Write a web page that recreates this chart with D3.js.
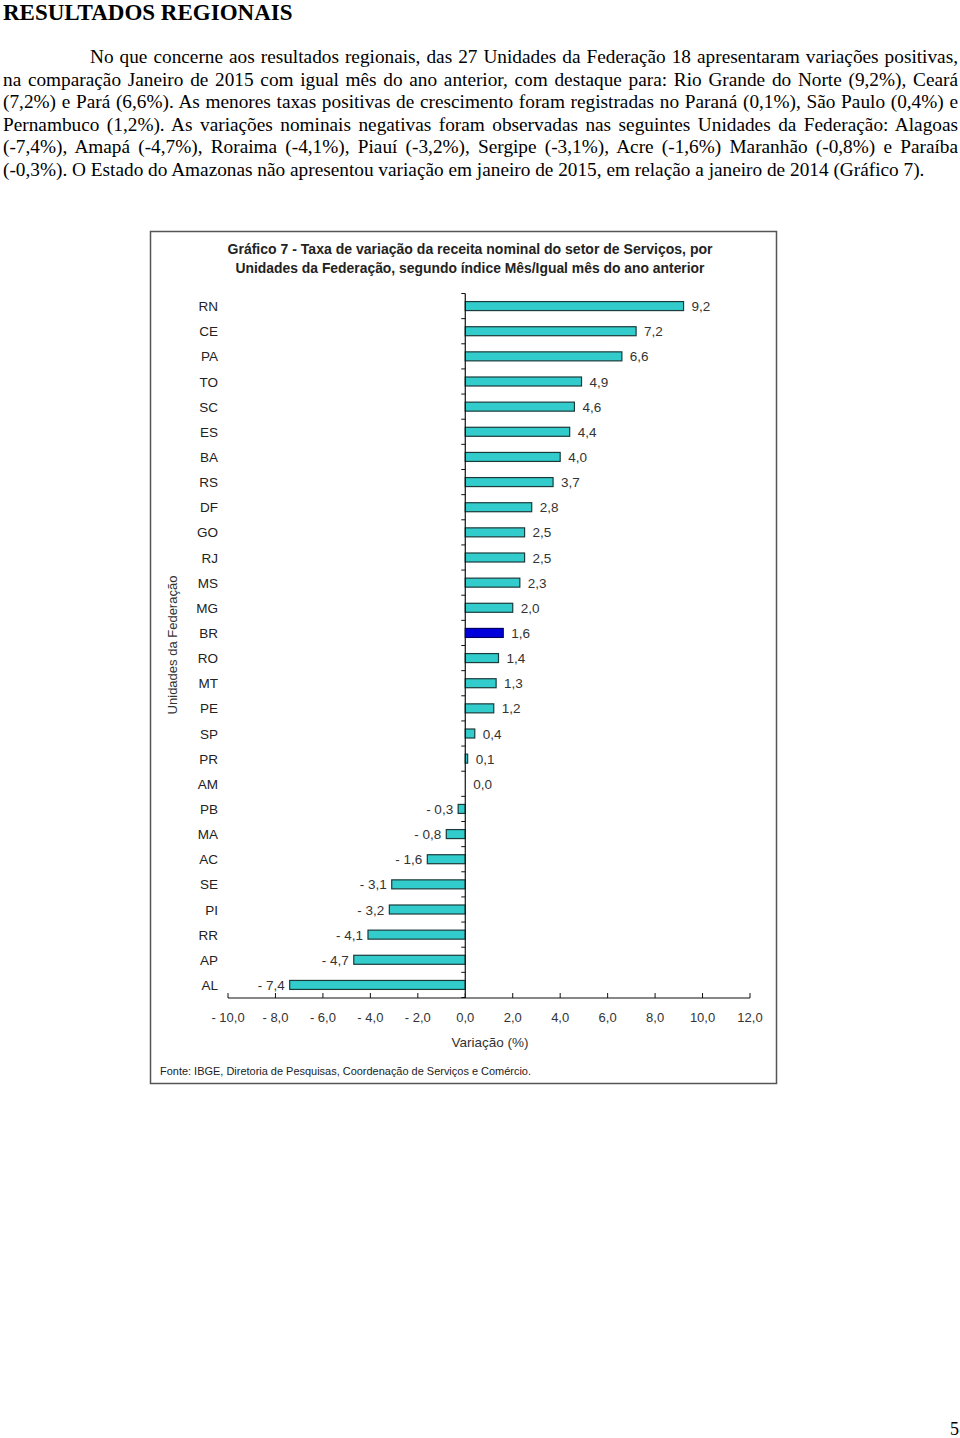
<!DOCTYPE html>
<html><head><meta charset="utf-8">
<script src="https://cdn.jsdelivr.net/npm/d3@7"></script>
<style>
body{margin:0;background:#fff;width:960px;height:1438px;position:relative;overflow:hidden;}
#head{position:absolute;left:3px;top:1px;font-family:"Liberation Serif","Times New Roman",serif;font-weight:bold;font-size:23px;line-height:23px;color:#000;white-space:nowrap;}
#para{position:absolute;left:3px;top:46px;width:955px;font-family:"Liberation Serif","Times New Roman",serif;font-size:19.3px;line-height:22.6px;color:#000;}
#para div{text-align:justify;text-align-last:justify;white-space:nowrap;}
#para div.first{padding-left:87px;}
#para div.last{text-align-last:left;}
#pg{position:absolute;left:950px;top:1419px;font-family:"Liberation Serif",serif;font-size:18px;}
svg{position:absolute;left:0;top:0;}
</style></head><body>
<div id="head">RESULTADOS REGIONAIS</div>
<div id="para"></div>
<div id="pg">5</div>
<svg id="chart" width="960" height="1438"></svg>
<script>
const paragraphLines = [
 "No que concerne aos resultados regionais, das 27 Unidades da Federação 18 apresentaram variações positivas,",
 "na comparação Janeiro de 2015 com igual mês do ano anterior, com destaque para: Rio Grande do Norte (9,2%), Ceará",
 "(7,2%) e Pará (6,6%). As menores taxas positivas de crescimento foram registradas no Paraná (0,1%), São Paulo (0,4%) e",
 "Pernambuco (1,2%). As variações nominais negativas foram observadas nas seguintes Unidades da Federação: Alagoas",
 "(-7,4%), Amapá (-4,7%), Roraima (-4,1%), Piauí (-3,2%), Sergipe (-3,1%), Acre (-1,6%) Maranhão (-0,8%) e Paraíba",
 "(-0,3%). O Estado do Amazonas não apresentou variação em janeiro de 2015, em relação a janeiro de 2014 (Gráfico 7)."
];
const states = ["RN","CE","PA","TO","SC","ES","BA","RS","DF","GO","RJ","MS","MG","BR","RO","MT","PE","SP","PR","AM","PB","MA","AC","SE","PI","RR","AP","AL"];
const values = [9.2,7.2,6.6,4.9,4.6,4.4,4.0,3.7,2.8,2.5,2.5,2.3,2.0,1.6,1.4,1.3,1.2,0.4,0.1,0.0,-0.3,-0.8,-1.6,-3.1,-3.2,-4.1,-4.7,-7.4];
const xTicks = [-10,-8,-6,-4,-2,0,2,4,6,8,10,12];
const titleLines = ["Gráfico 7 - Taxa de variação da receita nominal do setor de Serviços, por","Unidades da Federação, segundo índice Mês/Igual mês do ano anterior"];

d3.select("#para").selectAll("div").data(paragraphLines).join("div")
  .attr("class",(d,i)=> i===0 ? "first" : (i===paragraphLines.length-1 ? "last" : null))
  .text(d=>d);

const fmt = v => (v<0 ? "- " : "") + Math.abs(v).toFixed(1).replace(".", ",");
const svg = d3.select("#chart");
const font = "'Liberation Sans Narrow','Arial Narrow','Liberation Sans',Arial,sans-serif";

svg.append("rect").attr("x",150.5).attr("y",231.5).attr("width",626).attr("height",852)
  .attr("fill","#fff").attr("stroke","#555").attr("stroke-width",1.5);

const titleW = [485, 469];
svg.append("g").selectAll("text").data(titleLines).join("text")
  .attr("x",(d,i)=>470-titleW[i]/2).attr("y",(d,i)=>254+i*19)
  .attr("textLength",(d,i)=>titleW[i]).attr("lengthAdjust","spacingAndGlyphs")
  .style("font-family",font).style("font-weight","bold").style("font-size","15.5px").attr("fill","#222")
  .text(d=>d);

const x = d3.scaleLinear().domain([-10,12]).range([228,750]);
const band = d3.scaleBand().domain(states).range([293.5,997.5]);

// bars
svg.append("g").selectAll("rect").data(states).join("rect")
  .attr("x",(d,i)=>Math.min(x(0),x(values[i])))
  .attr("y",d=>band(d)+band.bandwidth()/2-4.5)
  .attr("width",(d,i)=>Math.abs(x(values[i])-x(0)))
  .attr("height",9)
  .attr("fill",d=>d==="BR"?"#0000dd":"#33cccc")
  .attr("stroke",d=>d==="BR"?"#000066":"#1b3b3b").attr("stroke-width",1.2);

// y axis line with ticks at band boundaries
const gy = svg.append("g");
gy.append("line").attr("x1",x(0)).attr("x2",x(0)).attr("y1",293.5).attr("y2",997.5).attr("stroke","#111").attr("stroke-width",1.2);
const bounds = states.map(d=>band(d)).concat([997.5]);
gy.selectAll("line.t").data(bounds).join("line").attr("class","t")
  .attr("x1",x(0)-4).attr("x2",x(0)).attr("y1",d=>d).attr("y2",d=>d).attr("stroke","#111");

// category labels
svg.append("g").selectAll("text").data(states).join("text")
  .attr("x",218).attr("y",d=>band(d)+band.bandwidth()/2+5).attr("text-anchor","end")
  .style("font-family",font).style("font-size","13.5px").attr("fill","#222").text(d=>d);

// value labels
svg.append("g").selectAll("text").data(states).join("text")
  .attr("x",(d,i)=>values[i]<0 ? x(values[i])-5 : x(values[i])+8)
  .attr("y",d=>band(d)+band.bandwidth()/2+5)
  .attr("text-anchor",(d,i)=>values[i]<0?"end":"start")
  .style("font-family",font).style("font-size","13.5px").attr("fill","#333")
  .text((d,i)=>fmt(values[i]));

// x axis
const gx = svg.append("g");
gx.append("line").attr("x1",x(-10)).attr("x2",x(12)).attr("y1",998).attr("y2",998).attr("stroke","#111").attr("stroke-width",1.2);
gx.selectAll("line.t").data(xTicks).join("line").attr("class","t")
  .attr("x1",d=>x(d)).attr("x2",d=>x(d)).attr("y1",993).attr("y2",998).attr("stroke","#111");
gx.selectAll("text").data(xTicks).join("text")
  .attr("x",d=>x(d)).attr("y",1022).attr("text-anchor","middle")
  .style("font-family",font).style("font-size","13px").attr("fill","#333").text(d=>fmt(d));

svg.append("text").attr("x",490).attr("y",1047).attr("text-anchor","middle")
  .style("font-family",font).style("font-size","13.5px").attr("fill","#333").text("Variação (%)");

svg.append("text").attr("transform","translate(177,645) rotate(-90)").attr("text-anchor","middle")
  .style("font-family",font).style("font-size","13px").attr("fill","#333").text("Unidades da Federação");

svg.append("text").attr("x",160).attr("y",1075)
  .attr("textLength",371).attr("lengthAdjust","spacingAndGlyphs")
  .style("font-family",font).style("font-size","11.5px").attr("fill","#222")
  .text("Fonte: IBGE, Diretoria de Pesquisas, Coordenação de Serviços e Comércio.");
</script>
</body></html>
